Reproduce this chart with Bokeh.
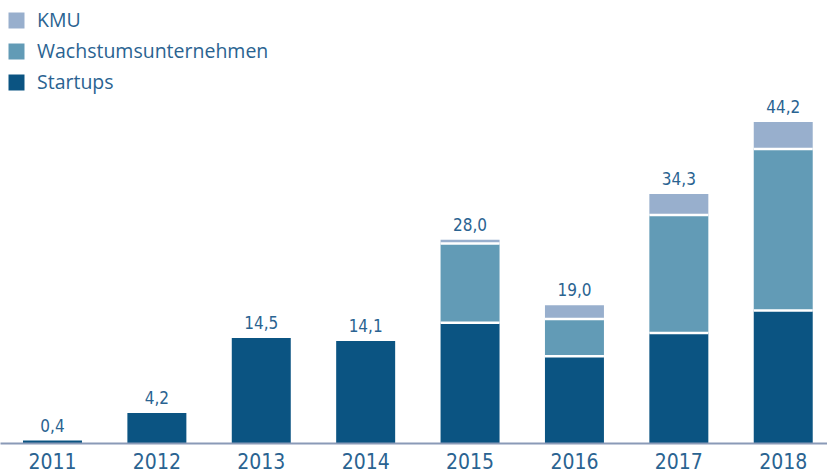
from bokeh.plotting import figure
from bokeh.models import ColumnDataSource, Range1d, FixedTicker, Legend, LegendItem
from bokeh.core.properties import value
from bokeh.embed import file_html
from bokeh.resources import INLINE

years = [2011, 2012, 2013, 2014, 2015, 2016, 2017, 2018]
startups = [0.4, 4.2, 14.5, 14.1, 16.6, 12.0, 15.2, 18.3]
wachstum = [0.0, 0.0, 0.0, 0.0, 10.9, 5.1, 16.2, 22.2]
kmu = [0.0, 0.0, 0.0, 0.0, 0.5, 1.9, 2.9, 3.7]
totals = [0.4, 4.2, 14.5, 14.1, 28.0, 19.0, 34.3, 44.2]
series_names = ["Startups", "Wachstumsunternehmen", "KMU"]
colors = ["#0b5482", "#629bb6", "#98afcd"]

TEXT = "#2a6391"
FONT_C = "DejaVu Sans Condensed, Open Sans"
BAR_W = 0.565

W, H = 827, 475
p = figure(width=W, height=H, output_backend="svg", toolbar_location=None,
           x_range=Range1d(2010.502, 2018.424), y_range=Range1d(0, 60.9),
           y_axis_location=None, min_border_left=0, min_border_right=0,
           min_border_top=0, min_border_bottom=32)
p.outline_line_color = None
p.xgrid.visible = False
p.ygrid.visible = False
p.background_fill_color = "white"

renderers = []
bottoms = [0.0] * len(years)
for k, (name, vals, col) in enumerate(zip(series_names, [startups, wachstum, kmu], colors)):
    rows = [i for i, v in enumerate(vals) if v > 0]
    xs = [years[i] for i in rows]
    src = ColumnDataSource(dict(
        x=xs,
        bottom=[bottoms[i] for i in rows],
        top=[bottoms[i] + vals[i] for i in rows],
        x0=[x - BAR_W / 2 for x in xs],
        x1=[x + BAR_W / 2 for x in xs],
    ))
    r = p.vbar(x="x", bottom="bottom", top="top", width=BAR_W, source=src,
               fill_color=col, line_color=None)
    if k > 0:
        p.segment(x0="x0", x1="x1", y0="bottom", y1="bottom", source=src,
                  line_color="white", line_width=2.5)
    renderers.append((name, r))
    bottoms = [b + v for b, v in zip(bottoms, vals)]

labels = [f"{t:.1f}".replace(".", ",") for t in totals]
lsrc = ColumnDataSource(dict(x=years, y=totals, t=labels))
p.text(x="x", y="y", text="t", source=lsrc, text_align="center",
       text_baseline="bottom", y_offset=-9, text_font=value(FONT_C),
       text_font_size="17px", text_color=TEXT)

items = [LegendItem(label=n, renderers=[r]) for n, r in reversed(renderers)]
leg = Legend(items=items, orientation="vertical")
p.add_layout(leg, "center")
leg.location = "top_left"
leg.border_line_color = None
leg.background_fill_alpha = 0
leg.padding = 0
leg.margin = 6
leg.glyph_width = 20
leg.glyph_height = 20
leg.label_standoff = 11
leg.spacing = 4
leg.label_text_font = "Open Sans"
leg.label_text_font_size = "19.5px"
leg.label_text_color = TEXT

ax = p.xaxis[0]
ax.ticker = FixedTicker(ticks=years)
ax.major_tick_line_color = None
ax.minor_tick_line_color = None
ax.axis_line_color = "#8a9ab7"
ax.axis_line_width = 2
ax.major_label_text_font = FONT_C
ax.major_label_text_font_size = "21px"
ax.major_label_text_color = TEXT
ax.major_label_standoff = 3

open("out.html", "w").write(file_html(p, INLINE))
